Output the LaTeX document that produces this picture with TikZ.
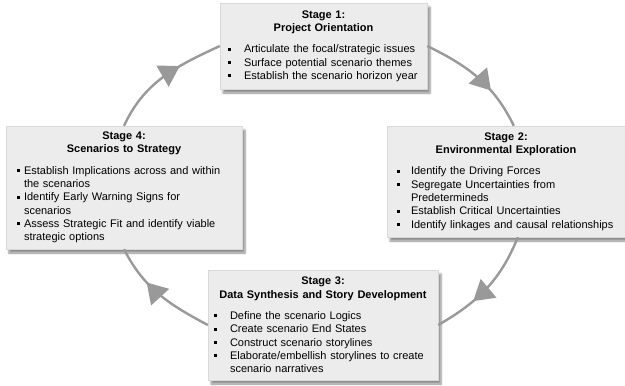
\documentclass[tikz,border=0pt]{standalone}
\usepackage{fontspec}
\setmainfont{Liberation Sans}
\usetikzlibrary{arrows.meta,decorations.markings,shadows.blur}

% small square bullet and a tight list for the stage boxes
\newcommand{\sqbul}{\rule[2.2pt]{2.8pt}{2.8pt}}
\newenvironment{stagelist}[2]{%
  \begin{list}{\sqbul}{%
    \setlength{\leftmargin}{#1}\setlength{\labelsep}{#2}%
    \setlength{\labelwidth}{\dimexpr#1-#2\relax}%
    \setlength{\itemsep}{0pt}\setlength{\parsep}{0pt}%
    \setlength{\topsep}{8pt}\setlength{\partopsep}{0pt}}}%
  {\end{list}}

\begin{document}
\begin{tikzpicture}[x=1pt,y=1pt]
        \tikzstyle{stage} = [fill=gray!15, draw=gray!30, line width=0.4pt, inner xsep=8pt, inner ysep=0pt,
            blur shadow={shadow xshift=3pt, shadow yshift=-4pt, shadow opacity=45, shadow blur steps=6},
            font=\fontsize{11}{13.3}\selectfont]
        \tikzstyle{flow} = [color=black!40, line width=2.4pt, postaction={decorate},
            decoration={markings, mark=at position 0.65 with {\arrow{Triangle[length=20pt,width=24pt]}}}]

        \useasboundingbox (0,-386) rectangle (625,0);

        % the four stages
        \node[stage, text width=191pt, minimum height=86pt] (s1) at (323.5,-46) {%
            {\centering\bfseries Stage 1:\\ Project Orientation\par}\raggedright
            \begin{stagelist}{16pt}{13pt}
            \item Articulate the focal/strategic issues
            \item Surface potential scenario themes
            \item Establish the scenario horizon year
            \end{stagelist}};
        \node[stage, text width=222pt, minimum height=111pt] (s2) at (506,-181.5) {%
            {\centering\bfseries Stage 2:\\ Environmental Exploration\par}\raggedright
            \begin{stagelist}{16pt}{11pt}
            \item Identify the Driving Forces
            \item Segregate Uncertainties from\newline Predetermineds
            \item Establish Critical Uncertainties
            \item Identify linkages and causal relationships
            \end{stagelist}};
        \node[stage, inner xsep=6pt, text width=218pt, minimum height=110pt] (s3) at (323,-325) {%
            {\centering\bfseries Stage 3:\\ Data Synthesis and Story Development\par}\raggedright
            \begin{stagelist}{16pt}{13pt}
            \item Define the scenario Logics
            \item Create scenario End States
            \item Construct scenario storylines
            \item Elaborate/embellish storylines to create\newline scenario narratives
            \end{stagelist}};
        \node[stage, text width=220pt, minimum height=123pt] (s4) at (124,-187.5) {%
            {\centering\bfseries Stage 4:\\ Scenarios to Strategy\par}\raggedright
            \begin{stagelist}{10pt}{4pt}
            \item Establish Implications across and within\newline the scenarios
            \item Identify Early Warning Signs for\newline scenarios
            \item Assess Strategic Fit and identify viable\newline strategic options
            \end{stagelist}};

        % cycle arrows
        \draw[flow] (s1.east) to[out=-26, in=116] (s2.82);
        \draw[flow] (s2.-78) to[out=-112, in=30] (s3.east);
        \draw[flow] (s3.west) to[out=152, in=-63] (s4.south);
        \draw[flow] (s4.north) to[out=65, in=205] (s1.west);

    \end{tikzpicture}
\end{document}
